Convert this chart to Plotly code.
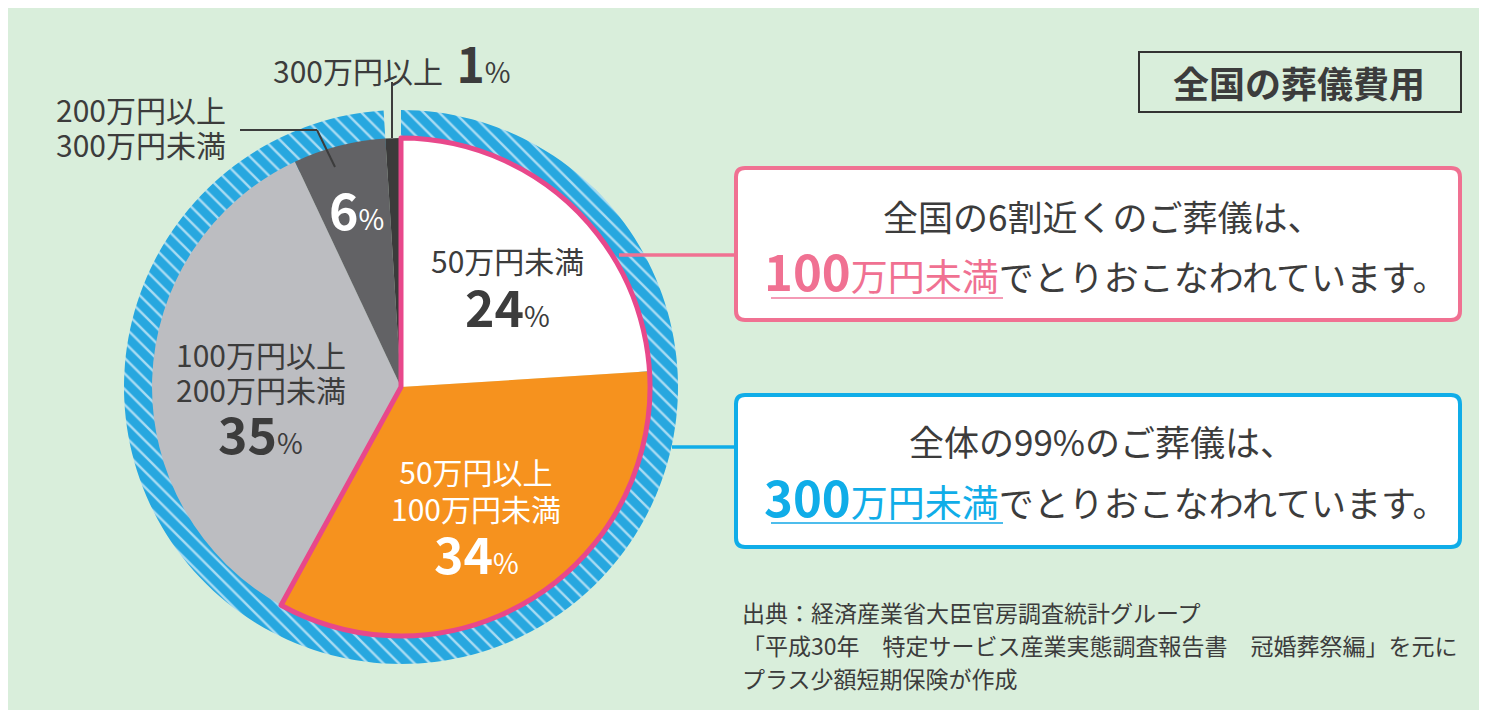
import plotly.graph_objects as go

# ---------------- data ----------------
categories = ["50万円未満", "50万円以上\n100万円未満", "100万円以上\n200万円未満",
              "200万円以上\n300万円未満", "300万円以上"]
shares = [24, 34, 35, 6, 1]
slice_colors = ["#ffffff", "#f6921e", "#bcbdc1", "#626265", "#3b3b3b"]
label_colors = ["#3c3c3c", "#ffffff", "#3c3c3c", "#ffffff", "#3c3c3c"]

ring_groups = ["300万円未満", "300万円以上"]
ring_shares = [99, 1]
highlight_groups = ["100万円未満", "100万円以上"]
highlight_shares = [58, 42]

title_text = "全国の葬儀費用"
msg_pink_1 = "全国の6割近くのご葬儀は、"
msg_pink_num, msg_pink_unit = "100", "万円未満"
msg_blue_1 = "全体の99%のご葬儀は、"
msg_blue_num, msg_blue_unit = "300", "万円未満"
msg_tail = "でとりおこなわれています。"
source_lines = ["出典：経済産業省大臣官房調査統計グループ",
                "「平成30年　特定サービス産業実態調査報告書　冠婚葬祭編」を元に",
                "プラス少額短期保険が作成"]

# ---------------- layout helpers ----------------
WIN_W, WIN_H = 1487, 718
OX, OY = 8, 8          # page margin of the browser body
W, H = WIN_W - 2 * OX, WIN_H - 2 * OY
FONT = "Noto Sans CJK JP"
DARK = "#3c3c3c"
PINK = "#f07192"
BLUE = "#10ade8"
GREEN = "#d9eedb"


def X(px):
    return (px - OX) / W


def Y(py):
    return 1 - (py - OY) / H


def dom(cx, cy, r):
    return dict(x=[X(cx - r), X(cx + r)], y=[Y(cy + r), Y(cy - r)])


CX, CY = 401, 387
R_IN, R_OUT = 249, 277

fig = go.Figure()

# outer hatched ring (99%)
fig.add_trace(go.Pie(
    labels=ring_groups, values=ring_shares, sort=False, direction="clockwise",
    rotation=0, hole=0.86, domain=dom(CX, CY, R_OUT), textinfo="none",
    marker=dict(colors=["#27a7df", "rgba(0,0,0,0)"],
                line=dict(width=0),
                pattern=dict(shape=["\\", ""], fgcolor="#ffffff", fgopacity=0.6,
                             bgcolor=["#27a7df", "rgba(0,0,0,0)"], fillmode="overlay",
                             size=11, solidity=0.22)),
    hoverinfo="label+percent", showlegend=False))

# main pie
fig.add_trace(go.Pie(
    labels=[c.replace("\n", "") for c in categories], values=shares, sort=False,
    direction="clockwise", rotation=0, domain=dom(CX, CY, R_IN), textinfo="none",
    marker=dict(colors=slice_colors, line=dict(width=0)),
    hoverinfo="label+percent", showlegend=False))

# pink outline of the < 100万円 share
fig.add_trace(go.Pie(
    labels=highlight_groups, values=highlight_shares, sort=False,
    direction="clockwise", rotation=0, domain=dom(CX, CY, R_IN), textinfo="none",
    marker=dict(colors=["rgba(0,0,0,0)", "rgba(0,0,0,0)"],
                line=dict(color=["#e8488b", "rgba(0,0,0,0)"], width=[5, 0])),
    hoverinfo="skip", showlegend=False))

ann = []


def text(x, y, s, size, color=DARK, xanchor="center", align="center"):
    ann.append(dict(x=X(x), y=Y(y), xref="paper", yref="paper", text=s,
                    showarrow=False, xanchor=xanchor, yanchor="middle", align=align,
                    font=dict(family=FONT, size=size, color=color)))


def block(x, ymid, label, glyph, spacing, color, xanchor="center"):
    # line spacing in plotly = 1.3 x base font size; glyphs enlarged via span
    s = "<br>".join(f"<span style='font-size:{glyph}px'>{t}</span>" for t in label.split("\n"))
    text(x, ymid, s, spacing / 1.3, color, xanchor=xanchor,
         align="left" if xanchor == "left" else "center")


def pct(v):
    return f"<b>{v}</b><span style='font-size:28px'>%</span>"


LAB = 30
PCT = 50
# 0: 50万円未満
text(508, 260, categories[0], LAB, label_colors[0])
text(508, 305, pct(shares[0]), PCT, label_colors[0])
# 1: 50-100
block(476, 489, categories[1], LAB, 37, label_colors[1])
text(476, 552, pct(shares[1]), PCT, label_colors[1])
# 2: 100-200
block(261, 371, categories[2], LAB, 35, label_colors[2])
text(261, 432, pct(shares[2]), PCT, label_colors[2])
# 3: 200-300 (outside label + inside percentage)
block(54, 126, categories[3], LAB, 35, DARK, xanchor="left")
text(356, 208, pct(shares[3]), PCT, label_colors[3])
# 4: 300以上
text(392, 62, categories[4] + "  " + f"<b><span style='font-size:48px'>{shares[4]}</span></b>"
     + "<span style='font-size:28px'>%</span>", LAB, DARK)

# title
text(1299, 82, f"<b>{title_text}</b>", 36, DARK)

# pink message
text(1102, 215, msg_pink_1, 35, DARK)
text(1105, 270, f"<span style='color:{PINK}'><b><span style='font-size:49px'>{msg_pink_num}</span></b>"
     f"<span style='font-size:37px'>{msg_pink_unit}</span></span>{msg_tail}", 35, DARK)
# blue message
text(1102, 440, msg_blue_1, 35, DARK)
text(1105, 495, f"<span style='color:{BLUE}'><b><span style='font-size:49px'>{msg_blue_num}</span></b>"
     f"<span style='font-size:37px'>{msg_blue_unit}</span></span>{msg_tail}", 35, DARK)

# source
for i, s in enumerate(source_lines):
    text(740, 612 + 33 * i, s, 23, DARK, xanchor="left", align="left")

shapes = []


def line(x0, y0, x1, y1, color, width):
    shapes.append(dict(type="line", xref="paper", yref="paper", x0=X(x0), y0=Y(y0),
                       x1=X(x1), y1=Y(y1), line=dict(color=color, width=width)))


def rrect(x0, y0, x1, y1, r, color, width, fill):
    p = (f"M {X(x0 + r)},{Y(y0)} L {X(x1 - r)},{Y(y0)} Q {X(x1)},{Y(y0)} {X(x1)},{Y(y0 + r)} "
         f"L {X(x1)},{Y(y1 - r)} Q {X(x1)},{Y(y1)} {X(x1 - r)},{Y(y1)} "
         f"L {X(x0 + r)},{Y(y1)} Q {X(x0)},{Y(y1)} {X(x0)},{Y(y1 - r)} "
         f"L {X(x0)},{Y(y0 + r)} Q {X(x0)},{Y(y0)} {X(x0 + r)},{Y(y0)} Z")
    shapes.append(dict(type="path", xref="paper", yref="paper", path=p,
                       line=dict(color=color, width=width), fillcolor=fill))


# connectors
line(619, 255, 736, 255, PINK, 3.5)
line(672, 447, 736, 447, BLUE, 3.5)
# leader lines
line(392, 82, 392, 138, DARK, 2)
line(240, 130, 317, 130, DARK, 2)
line(317, 130, 335, 167, DARK, 2)
# boxes
rrect(736, 168, 1460, 320, 9, PINK, 4, "#ffffff")
rrect(736, 395, 1460, 547, 9, BLUE, 4, "#ffffff")
shapes.append(dict(type="rect", xref="paper", yref="paper", x0=X(1139), y0=Y(52),
                   x1=X(1461), y1=Y(112), line=dict(color="#333333", width=2)))
# underlines
line(771, 298, 1003, 298, "#f49ab5", 2)
line(771, 523, 1003, 523, "#4dbdec", 2)

fig.update_layout(width=W, height=H, margin=dict(l=0, r=0, t=0, b=0),
                  paper_bgcolor=GREEN, plot_bgcolor=GREEN,
                  annotations=ann, shapes=shapes, showlegend=False,
                  font=dict(family=FONT))

fig.write_html("out.html")
